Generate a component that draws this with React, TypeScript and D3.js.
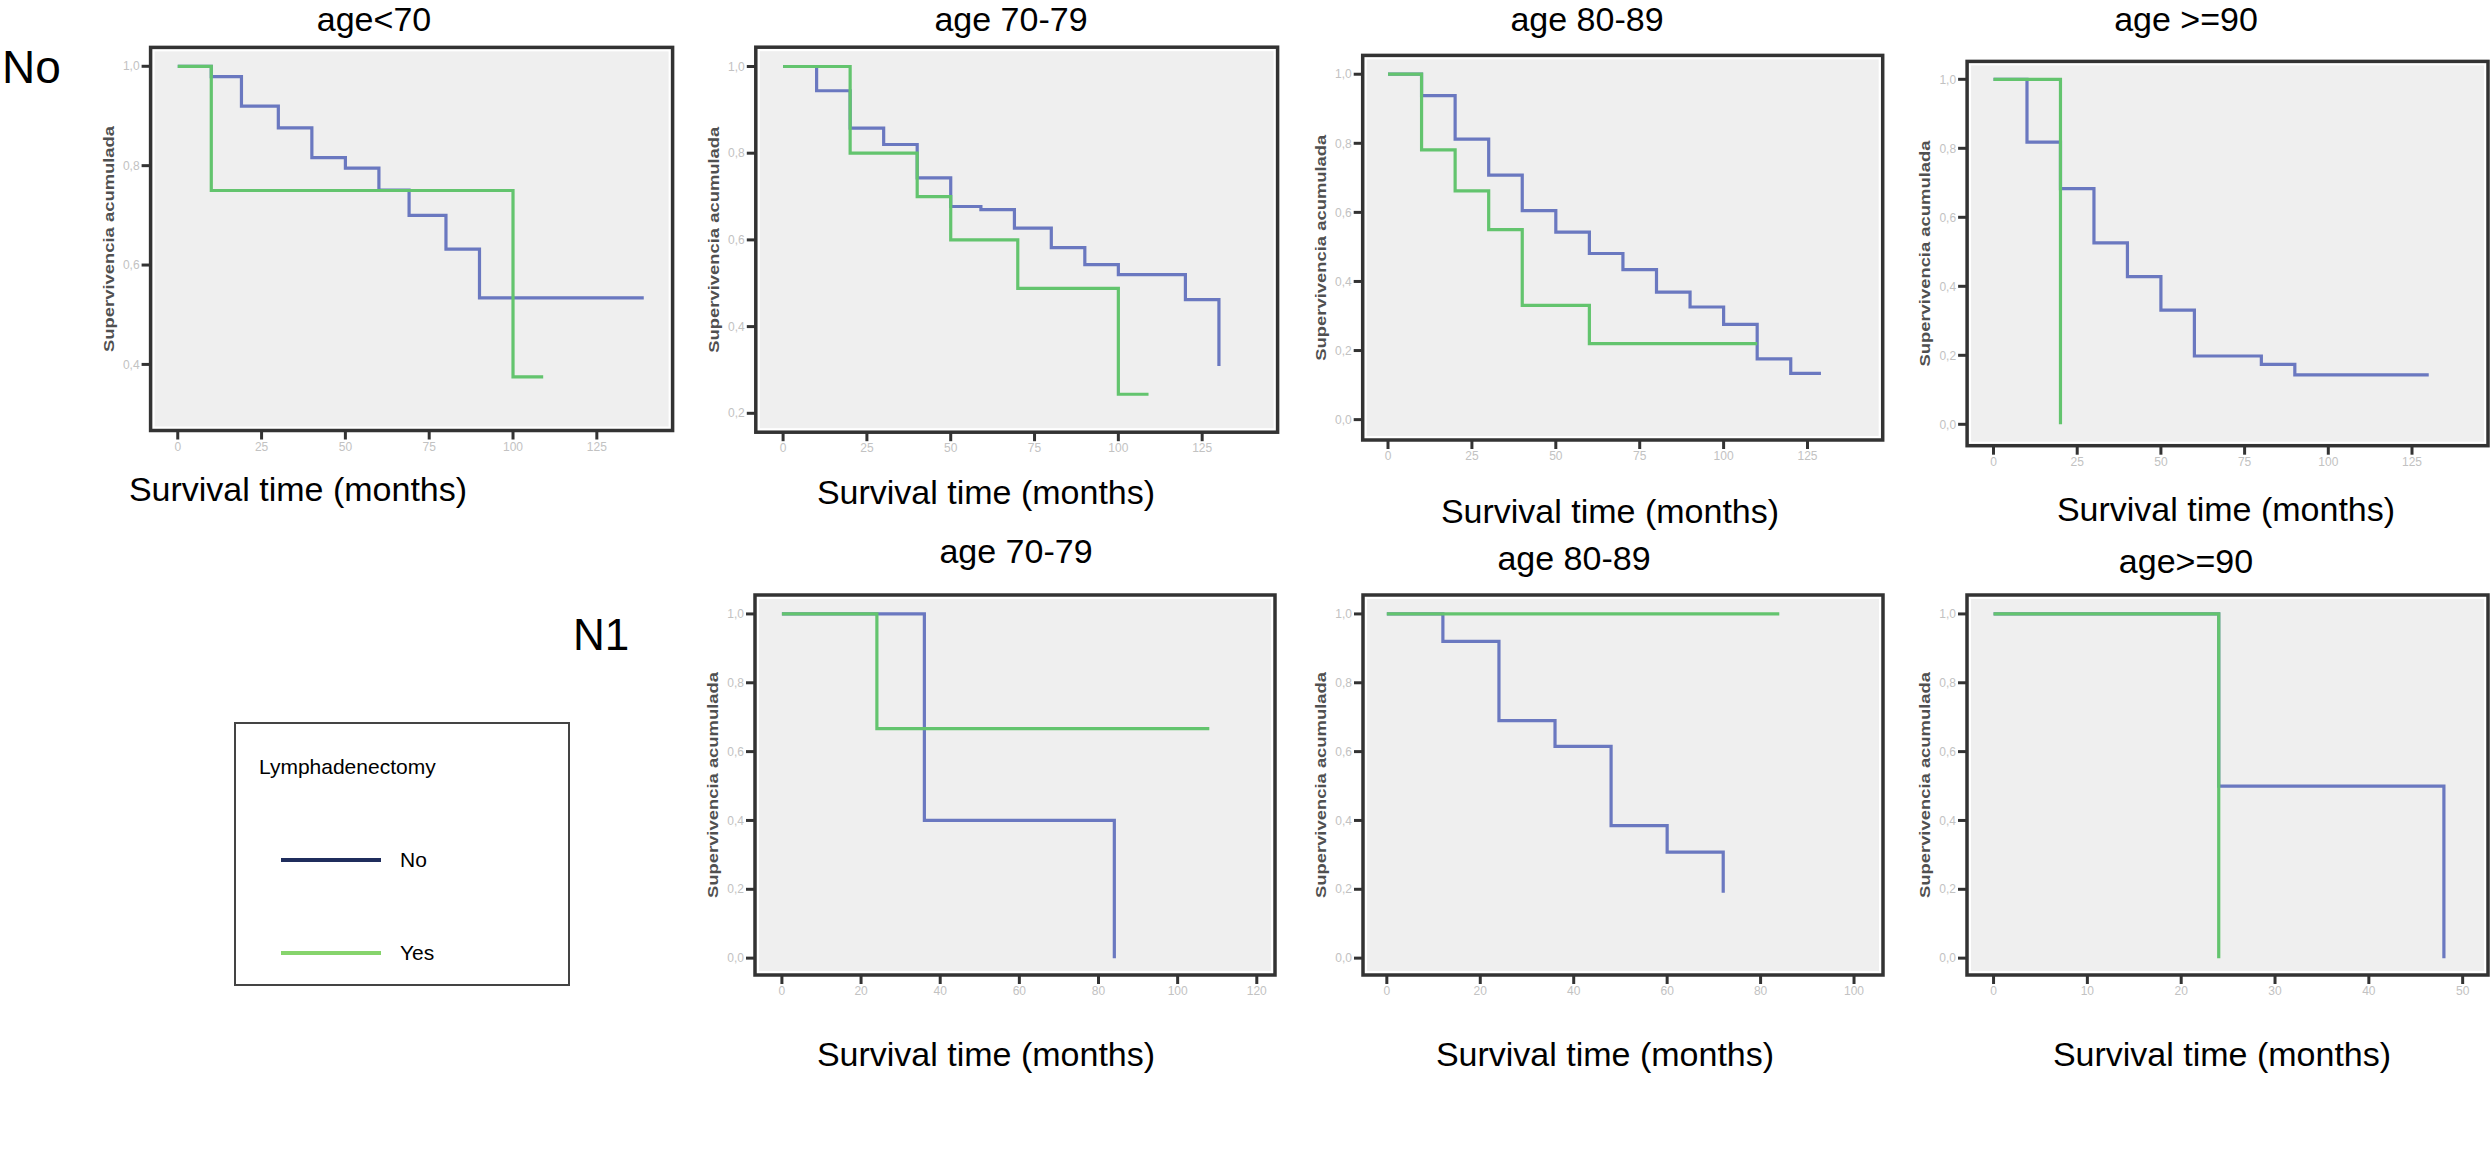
import React from "react";
import * as d3 from "d3";

// ---------- data ----------
const groupLabels = ["No", "N1"];
const panelTitles = ["age<70", "age 70-79", "age 80-89", "age >=90", "age 70-79", "age 80-89", "age>=90"];
const yAxisTitle = "Supervivencia acumulada";
const xAxisTitle = "Survival time (months)";
const legendTitle = "Lymphadenectomy";
const legendItems = ["No", "Yes"];

const xTicksTop = [0, 25, 50, 75, 100, 125];
const xTicksN1a = [0, 20, 40, 60, 80, 100, 120];
const xTicksN1b = [0, 20, 40, 60, 80, 100];
const xTicksN1c = [0, 10, 20, 30, 40, 50];
const yTicks04 = [0.4, 0.6, 0.8, 1.0];
const yTicks02 = [0.2, 0.4, 0.6, 0.8, 1.0];
const yTicks00 = [0.0, 0.2, 0.4, 0.6, 0.8, 1.0];

// N0, age<70
const p1NoT = [0, 10, 19, 30, 40, 50, 60, 69, 80, 90, 139];
const p1NoS = [1, 0.979, 0.92, 0.876, 0.816, 0.795, 0.751, 0.70, 0.632, 0.534, 0.534];
const p1YesT = [0, 10, 100, 109];
const p1YesS = [1, 0.75, 0.375, 0.375];
// N0, age 70-79
const p2NoT = [0, 10, 20, 30, 40, 50, 59, 69, 80, 90, 100, 120, 130];
const p2NoS = [1, 0.944, 0.858, 0.82, 0.743, 0.677, 0.67, 0.627, 0.582, 0.543, 0.52, 0.462, 0.309];
const p2YesT = [0, 20, 40, 50, 70, 100, 109];
const p2YesS = [1, 0.8, 0.7, 0.6, 0.488, 0.244, 0.244];
// N0, age 80-89
const p3NoT = [0, 10, 20, 30, 40, 50, 60, 70, 80, 90, 100, 110, 120, 129];
const p3NoS = [1, 0.938, 0.812, 0.708, 0.605, 0.543, 0.481, 0.434, 0.369, 0.326, 0.276, 0.176, 0.134, 0.134];
const p3YesT = [0, 10, 20, 30, 40, 60, 110];
const p3YesS = [1, 0.781, 0.662, 0.55, 0.331, 0.22, 0.22];
// N0, age >=90
const p4NoT = [0, 10, 20, 30, 40, 50, 60, 80, 90, 130];
const p4NoS = [1, 0.818, 0.683, 0.526, 0.428, 0.331, 0.198, 0.174, 0.143, 0.143];
const p4YesT = [0, 20];
const p4YesS = [1, 0];
// N1, age 70-79
const p5NoT = [0, 36, 84];
const p5NoS = [1, 0.4, 0];
const p5YesT = [0, 24, 108];
const p5YesS = [1, 0.667, 0.667];
// N1, age 80-89
const p6NoT = [0, 12, 24, 36, 48, 60, 72];
const p6NoS = [1, 0.92, 0.69, 0.615, 0.385, 0.308, 0.19];
const p6YesT = [0, 84];
const p6YesS = [1, 1];
// N1, age >=90
const p7NoT = [0, 24, 48];
const p7NoS = [1, 0.5, 0];
const p7YesT = [0, 24];
const p7YesS = [1, 0];

// ---------- styles ----------
const FONT = "'Liberation Sans', Arial, Helvetica, sans-serif";
const BLUE = "#6a78c0";
const GREEN = "#63c46e";
const FRAME = "#333333";

type Panel = {
  title: string;
  titleX: number;
  titleY: number;
  labelX: number;
  labelY: number;
  box: { x: number; y: number; w: number; h: number };
  xDom: [number, number];
  yDom: [number, number];
  xTicks: number[];
  yTicks: number[];
  no: [number[], number[]];
  yes: [number[], number[]];
};

const panels: Panel[] = [
  {
    title: panelTitles[0], titleX: 374, titleY: 31, labelX: 298, labelY: 501,
    box: { x: 150.6, y: 47.4, w: 522, h: 383.1 }, xDom: [-8.1, 147.6], yDom: [0.267, 1.038],
    xTicks: xTicksTop, yTicks: yTicks04, no: [p1NoT, p1NoS], yes: [p1YesT, p1YesS],
  },
  {
    title: panelTitles[1], titleX: 1011, titleY: 31, labelX: 986, labelY: 504,
    box: { x: 755.8, y: 47.2, w: 521.8, h: 385 }, xDom: [-8.14, 147.5], yDom: [0.1564, 1.0445],
    xTicks: xTicksTop, yTicks: yTicks02, no: [p2NoT, p2NoS], yes: [p2YesT, p2YesS],
  },
  {
    title: panelTitles[2], titleX: 1587, titleY: 31, labelX: 1610, labelY: 523,
    box: { x: 1362.7, y: 55.4, w: 520, h: 384.6 }, xDom: [-7.54, 147.4], yDom: [-0.059, 1.0545],
    xTicks: xTicksTop, yTicks: yTicks00, no: [p3NoT, p3NoS], yes: [p3YesT, p3YesS],
  },
  {
    title: panelTitles[3], titleX: 2186, titleY: 31, labelX: 2226, labelY: 521,
    box: { x: 1967.1, y: 61.4, w: 520.9, h: 384.3 }, xDom: [-7.89, 147.7], yDom: [-0.062, 1.0519],
    xTicks: xTicksTop, yTicks: yTicks00, no: [p4NoT, p4NoS], yes: [p4YesT, p4YesS],
  },
  {
    title: panelTitles[4], titleX: 1016, titleY: 563, labelX: 986, labelY: 1066,
    box: { x: 755, y: 595, w: 520, h: 380 }, xDom: [-6.8, 124.6], yDom: [-0.049, 1.055],
    xTicks: xTicksN1a, yTicks: yTicks00, no: [p5NoT, p5NoS], yes: [p5YesT, p5YesS],
  },
  {
    title: panelTitles[5], titleX: 1574, titleY: 570, labelX: 1605, labelY: 1066,
    box: { x: 1363, y: 595, w: 520, h: 380 }, xDom: [-5.1, 106.2], yDom: [-0.049, 1.055],
    xTicks: xTicksN1b, yTicks: yTicks00, no: [p6NoT, p6NoS], yes: [p6YesT, p6YesS],
  },
  {
    title: panelTitles[6], titleX: 2186, titleY: 573, labelX: 2222, labelY: 1066,
    box: { x: 1967, y: 595, w: 521, h: 380 }, xDom: [-2.83, 52.7], yDom: [-0.049, 1.055],
    xTicks: xTicksN1c, yTicks: yTicks00, no: [p7NoT, p7NoS], yes: [p7YesT, p7YesS],
  },
];

const fmtY = (v: number) => d3.format(".1f")(v).replace(".", ",");

function KMPanel({ p }: { p: Panel }) {
  const { box } = p;
  const xs = d3.scaleLinear().domain(p.xDom).range([box.x, box.x + box.w]);
  const ys = d3.scaleLinear().domain(p.yDom).range([box.y + box.h, box.y]);
  const line = d3
    .line<[number, number]>()
    .x((d) => xs(d[0]))
    .y((d) => ys(d[1]))
    .curve(d3.curveStepAfter);
  const path = (s: [number[], number[]]) => line(s[0].map((t, i) => [t, s[1][i]] as [number, number])) || "";
  const bottom = box.y + box.h;
  const cy = box.y + box.h / 2;
  return (
    <g>
      <text x={p.titleX} y={p.titleY} textAnchor="middle" fontSize={34} fontFamily={FONT} fill="#000">
        {p.title}
      </text>
      <rect x={box.x} y={box.y} width={box.w} height={box.h} fill="#fff" stroke={FRAME} strokeWidth={3.5} />
      <rect x={box.x + 4} y={box.y + 4} width={box.w - 8} height={box.h - 8} fill="#efefef" />
      {p.yTicks.map((v) => (
        <g key={"y" + v}>
          <line x1={box.x - 9} x2={box.x} y1={ys(v)} y2={ys(v)} stroke={FRAME} strokeWidth={3} />
          <text x={box.x - 11} y={ys(v)} dy="0.35em" textAnchor="end" fontSize={12} fontFamily={FONT} fill="#c2c2c2">
            {fmtY(v)}
          </text>
        </g>
      ))}
      {p.xTicks.map((v) => (
        <g key={"x" + v}>
          <line x1={xs(v)} x2={xs(v)} y1={bottom} y2={bottom + 9} stroke={FRAME} strokeWidth={3} />
          <text x={xs(v)} y={bottom + 20} textAnchor="middle" fontSize={12} fontFamily={FONT} fill="#c2c2c2">
            {v}
          </text>
        </g>
      ))}
      <text
        transform={`translate(${box.x - 42},${cy}) rotate(-90)`}
        textAnchor="middle"
        dy="0.35em"
        fontSize={15}
        fontWeight="bold"
        fontFamily={FONT}
        fill="#505050"
        textLength={226}
        lengthAdjust="spacingAndGlyphs"
      >
        {yAxisTitle}
      </text>
      <path d={path(p.no)} fill="none" stroke={BLUE} strokeWidth={3.2} />
      <path d={path(p.yes)} fill="none" stroke={GREEN} strokeWidth={3.2} />
      <text x={p.labelX} y={p.labelY} textAnchor="middle" fontSize={34} fontFamily={FONT} fill="#000">
        {xAxisTitle}
      </text>
    </g>
  );
}

function Legend() {
  const lx = 235, ly = 723, lw = 334, lh = 262;
  const colors = ["#1f2d5c", "#86d46c"];
  const rows = [860, 953];
  return (
    <g>
      <rect x={lx} y={ly} width={lw} height={lh} fill="#fff" stroke="#444" strokeWidth={2} />
      <text x={259} y={774} fontSize={21} fontFamily={FONT} fill="#000">
        {legendTitle}
      </text>
      {legendItems.map((name, i) => (
        <g key={name}>
          <line x1={281} x2={381} y1={rows[i]} y2={rows[i]} stroke={colors[i]} strokeWidth={4} />
          <text x={400} y={rows[i]} dy="0.35em" fontSize={21} fontFamily={FONT} fill="#000">
            {name}
          </text>
        </g>
      ))}
    </g>
  );
}

export default function App() {
  return (
    <svg
      width={2491}
      height={1153}
      viewBox="0 0 2491 1153"
      style={{ position: "absolute", left: 0, top: 0, background: "#fff" }}
    >
      <rect x={0} y={0} width={2491} height={1153} fill="#fff" />
      <text x={2} y={83} fontSize={46} fontFamily={FONT} fill="#000">
        {groupLabels[0]}
      </text>
      <text x={573} y={650} fontSize={44} fontFamily={FONT} fill="#000">
        {groupLabels[1]}
      </text>
      {panels.map((p, i) => (
        <KMPanel key={i} p={p} />
      ))}
      <Legend />
    </svg>
  );
}
